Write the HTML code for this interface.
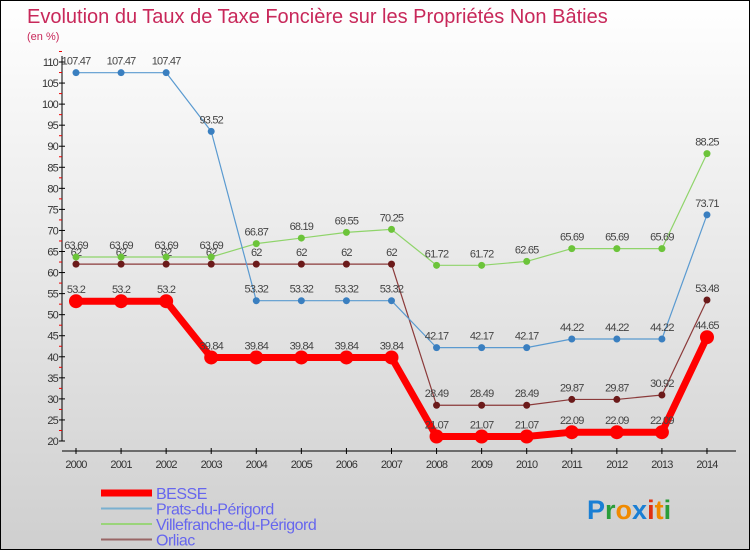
<!DOCTYPE html>
<html><head><meta charset="utf-8"><style>
body{margin:0}
#c{width:750px;height:550px;position:relative;overflow:hidden;box-sizing:border-box;border:1px solid #000;background:linear-gradient(#fff 0%,#ececec 40%,#cfcfcf 100%);font-family:"Liberation Sans",sans-serif}
</style></head><body>
<div id="c">
<svg width="750" height="550" id="s">
<text x="26" y="22" font-size="20" fill="#c8285a">Evolution du Taux de Taxe Foncière sur les Propriétés Non Bâties</text>
<text x="26" y="39" font-size="11" fill="#c8285a">(en %)</text>
<g id="g"></g>
<text x="586" y="518" font-size="27" font-weight="bold"><tspan fill="#1a7fd4">P</tspan><tspan fill="#2a9d3a">r</tspan><tspan fill="#f08a00">o</tspan><tspan fill="#1a7fd4">x</tspan><tspan fill="#e03010">i</tspan><tspan fill="#f08a00">t</tspan><tspan fill="#2a9d3a">i</tspan></text>
</svg></div>
<script>
const years=[2000,2001,2002,2003,2004,2005,2006,2007,2008,2009,2010,2011,2012,2013,2014];
const besse=[53.2,53.2,53.2,39.84,39.84,39.84,39.84,39.84,21.07,21.07,21.07,22.09,22.09,22.09,44.65];
const prats=[107.47,107.47,107.47,93.52,53.32,53.32,53.32,53.32,42.17,42.17,42.17,44.22,44.22,44.22,73.71];
const ville=[63.69,63.69,63.69,63.69,66.87,68.19,69.55,70.25,61.72,61.72,62.65,65.69,65.69,65.69,88.25];
const orliac=[62,62,62,62,62,62,62,62,28.49,28.49,28.49,29.87,29.87,30.92,53.48];
const yTicks=[20,25,30,35,40,45,50,55,60,65,70,75,80,85,90,95,100,105,110];
const NS='http://www.w3.org/2000/svg';
const g=document.getElementById('g');
const X=i=>75+i*45.07, Y=v=>440-(v-20)*4.211;
function el(t,a,p){const e=document.createElementNS(NS,t);for(const k in a)e.setAttribute(k,a[k]);(p||g).appendChild(e);return e;}
let e=el('line',{x1:61,y1:55,x2:61,y2:440,stroke:'#000','stroke-width':1});

e=el('line',{x1:61,y1:450,x2:735,y2:450,stroke:'#000','stroke-width':1});

yTicks.forEach(v=>{el('line',{x1:58,y1:Y(v),x2:64,y2:Y(v),stroke:'#000'});
 el('line',{x1:58,y1:Y(v+2.5),x2:61,y2:Y(v+2.5),stroke:'#e00'});
 const t=el('text',{x:57,y:Y(v)+4,'font-size':11,fill:'#333','text-anchor':'end','letter-spacing':'-0.8'});t.textContent=v;
 });
years.forEach((y,i)=>{el('line',{x1:X(i),y1:447,x2:X(i),y2:453,stroke:'#000'});
 const t=el('text',{x:X(i),y:467,'font-size':11,fill:'#333','text-anchor':'middle','letter-spacing':'-0.8'});t.textContent=y;
 });
function series(d,col,w,r,dot,name){
 const p=el('polyline',{points:d.map((v,i)=>X(i)+','+Y(v)).join(' '),fill:'none',stroke:col,'stroke-width':w,'stroke-linejoin':'round'});
 
 d.forEach((v,i)=>{const c=el('circle',{cx:X(i),cy:Y(v),r:r,fill:dot});
  
  const t=el('text',{x:X(i),y:Y(v)-8,'font-size':11,fill:'#444','text-anchor':'middle','letter-spacing':'-0.8'});t.textContent=v;
  });
}
series(orliac,'#8b3a3a',1.2,3.5,'#6b1a1a','orliac');
series(ville,'#8fd46a',1.2,3.5,'#6cc43a','villefranche');
series(prats,'#5a9ad0',1.2,3.5,'#3a7fc0','prats');
series(besse,'#f00',7,7,'#f00','besse');
const leg=[['BESSE','#f00',7],['Prats-du-Périgord','#7ab0d0',2],['Villefranche-du-Périgord','#9ad47a',2],['Orliac','#966',2]];
leg.forEach((l,i)=>{const y=492+i*15.5;
 const ln=el('line',{x1:100,y1:y,x2:151,y2:y,stroke:l[1],'stroke-width':l[2]});
 
 const t=el('text',{x:155,y:y+6,'font-size':16,fill:'#6666ee','letter-spacing':'-0.5'});t.textContent=l[0];
 });
</script>
</body></html>
